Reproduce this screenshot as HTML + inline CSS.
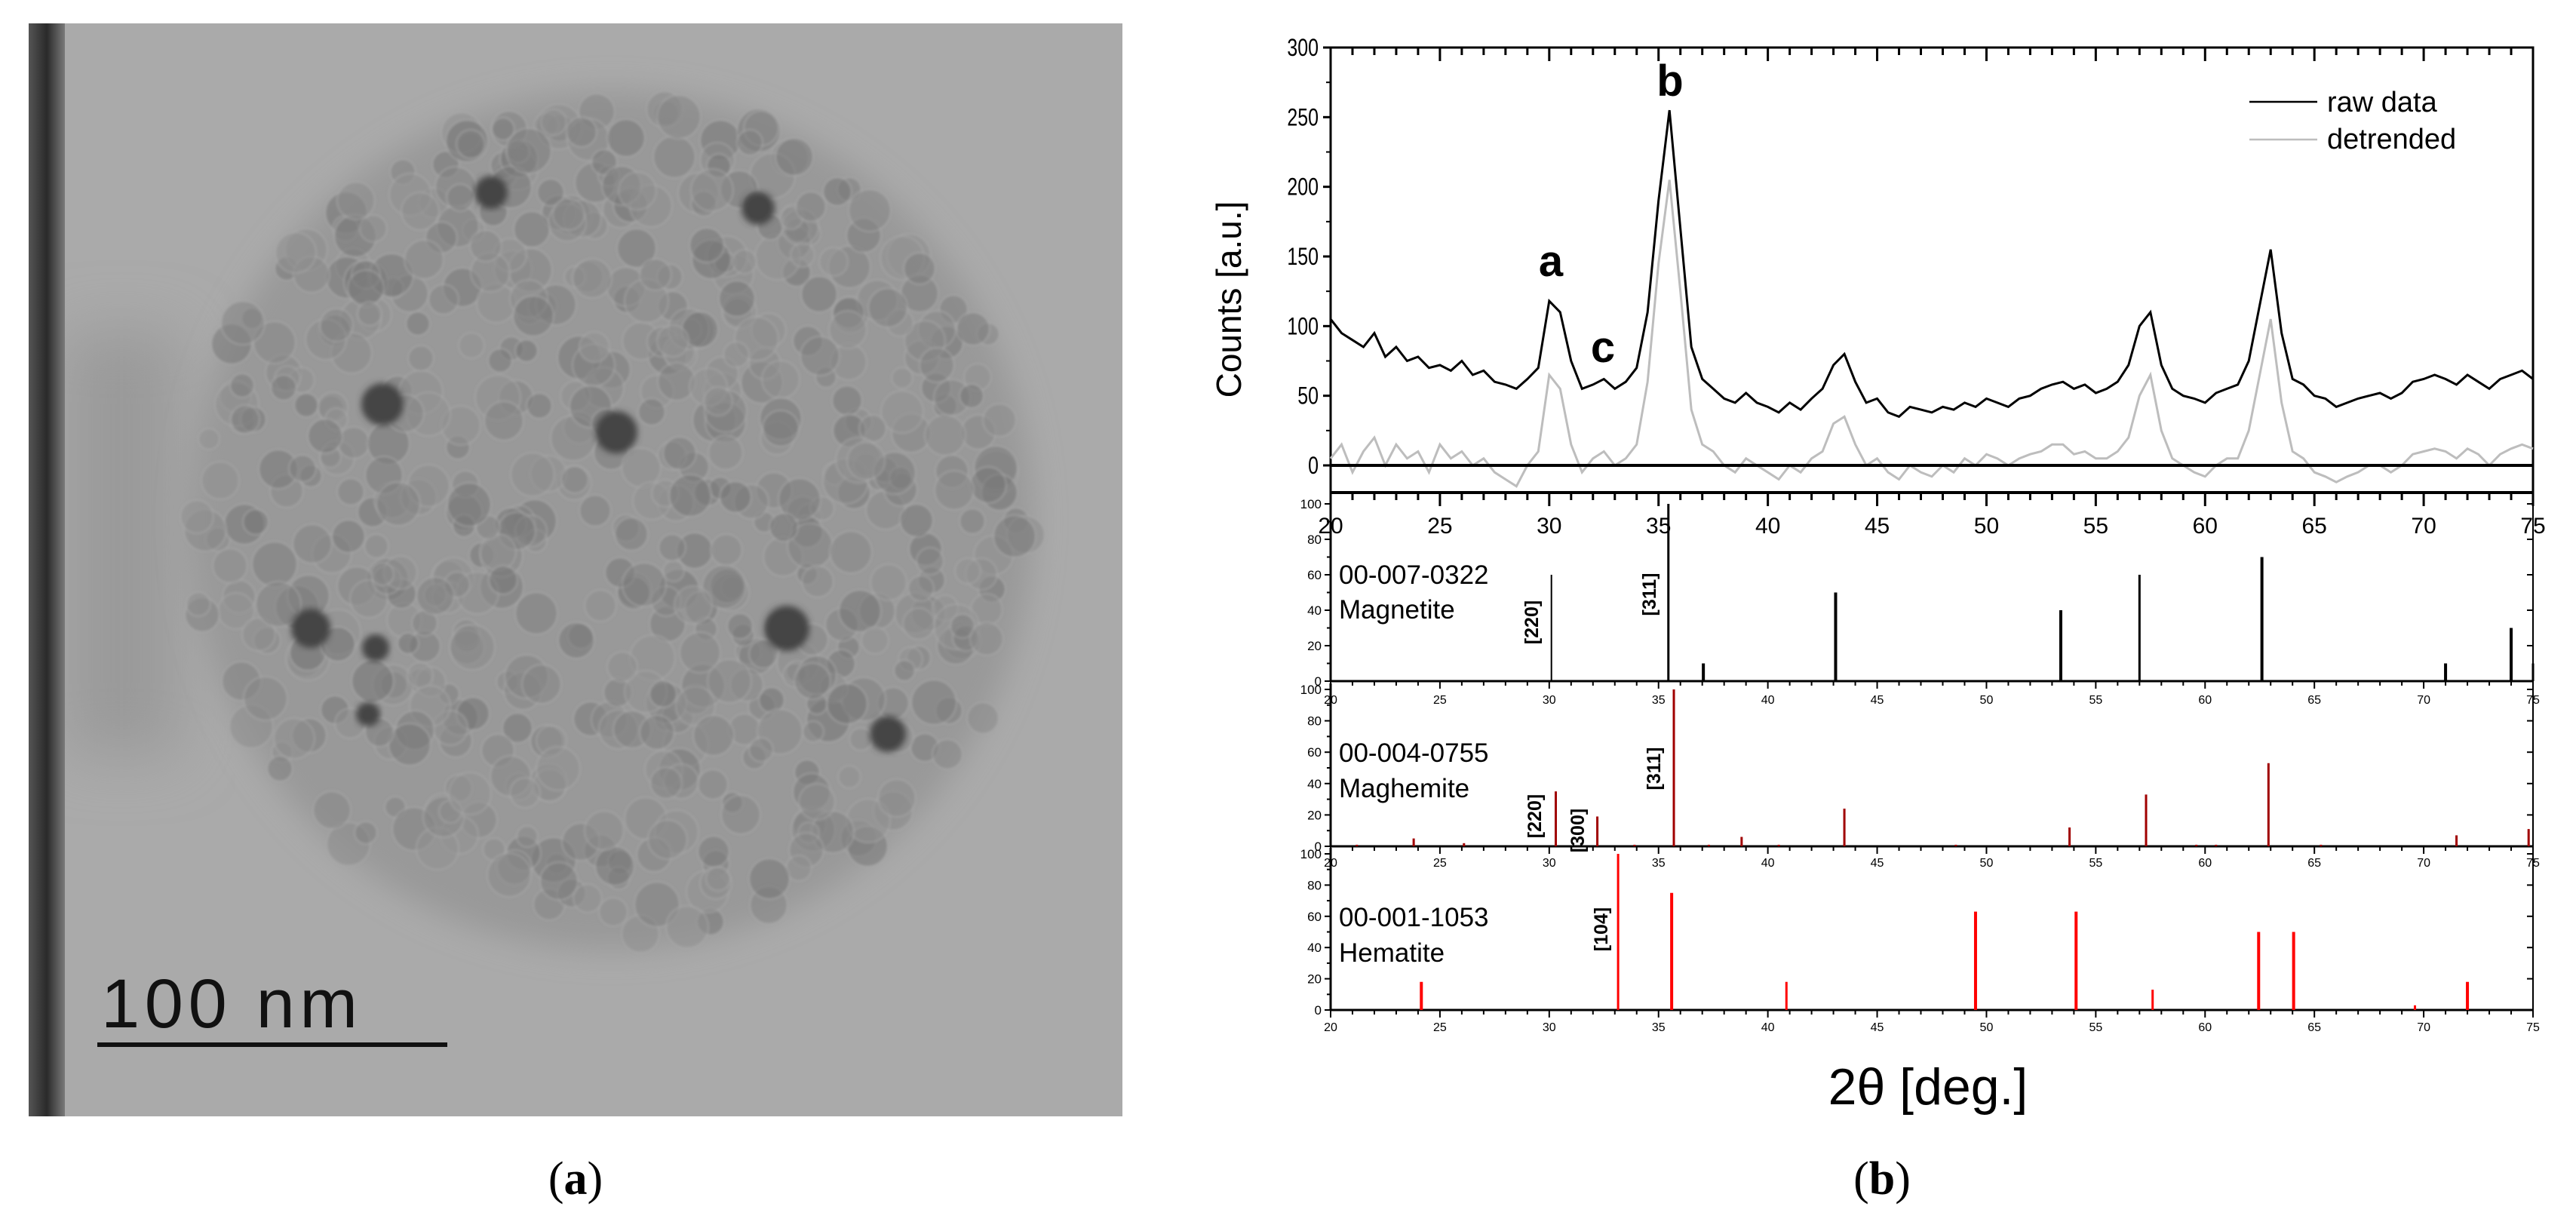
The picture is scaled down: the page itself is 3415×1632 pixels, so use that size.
<!DOCTYPE html>
<html><head><meta charset="utf-8"><style>
html,body{margin:0;padding:0;background:#fff}
svg{display:block}
text{font-family:"Liberation Sans",Arial,sans-serif}
.serif{font-family:"Liberation Serif",serif}
</style></head><body>
<svg id="fig" width="3415" height="1632" viewBox="0 0 3415 1632" xmlns="http://www.w3.org/2000/svg">
<defs>
<filter id="blur20" x="-50%" y="-50%" width="200%" height="200%"><feGaussianBlur stdDeviation="20"/></filter>
<filter id="blur40" x="-50%" y="-50%" width="200%" height="200%"><feGaussianBlur stdDeviation="40"/></filter>
<filter id="blur3"><feGaussianBlur stdDeviation="4"/></filter>
<filter id="blur1"><feGaussianBlur stdDeviation="1.5"/></filter>
<linearGradient id="band" x1="0" x2="1"><stop offset="0" stop-color="#555"/><stop offset="0.5" stop-color="#2a2a2a"/><stop offset="1" stop-color="#7a7a7a"/></linearGradient>
<clipPath id="temclip"><rect x="38" y="31" width="1450" height="1449"/></clipPath>
</defs>
<g id="tem" clip-path="url(#temclip)">
<rect x="38" y="31" width="1450" height="1449" fill="#aaaaaa"/>
<rect x="86" y="440" width="150" height="560" fill="#9a9a9a" filter="url(#blur40)"/>
<ellipse cx="810" cy="690" rx="560" ry="570" fill="#999" filter="url(#blur20)"/>
<g id="particles" filter="url(#blur1)"></g>
<rect x="38" y="31" width="48" height="1449" fill="url(#band)"/>
<text x="134" y="1362" font-size="92" fill="#111" textLength="340">100  nm</text>
<rect x="129" y="1382" width="464" height="6" fill="#111"/>
</g>
<text class="serif" x="763" y="1583" font-size="62" text-anchor="middle">(<tspan font-weight="bold">a</tspan>)</text>
<text class="serif" x="2495" y="1583" font-size="62" text-anchor="middle">(<tspan font-weight="bold">b</tspan>)</text>
<g id="xrd"></g>
</svg>
<script>
// ---- XRD data ----
const twoTheta = [];
for (let i = 0; i <= 110; i++) twoTheta.push(20 + i * 0.5);
const rawData = [105,95,90,85,95,78,85,75,78,70,72,68,75,65,68,60,58,55,62,70,118,110,75,55,58,62,55,60,70,110,190,255,170,85,62,55,48,45,52,45,42,38,45,40,48,55,72,80,60,45,48,38,35,42,40,38,42,40,45,42,48,45,42,48,50,55,58,60,55,58,52,55,60,72,100,110,72,55,50,48,45,52,55,58,75,115,155,95,62,58,50,48,42,45,48,50,52,48,52,60,62,65,62,58,65,60,55,62,65,68,62];
const detrended = [5,15,-5,10,20,0,15,5,10,-5,15,5,10,0,5,-5,-10,-15,0,10,65,55,15,-5,5,10,0,5,15,60,145,205,125,40,15,10,0,-5,5,0,-5,-10,0,-5,5,10,30,35,15,0,5,-5,-10,0,-5,-8,0,-5,5,0,8,5,0,5,8,10,15,15,8,10,5,5,10,20,50,65,25,5,0,-5,-8,0,5,5,25,65,105,45,10,5,-5,-8,-12,-8,-5,0,0,-5,0,8,10,12,10,5,12,8,0,8,12,15,12];
const countTicks = [0,50,100,150,200,250,300];
const degTicks = [20,25,30,35,40,45,50,55,60,65,70,75];
const magPos = [30.1,35.45,37.05,43.1,53.4,57.0,62.6,71.0,74.0,75.0];
const magInt = [60,100,10,50,40,60,70,10,30,10];
const maghPos = [21.2,23.8,26.1,30.3,32.2,33.9,35.7,37.3,38.8,40.5,43.5,48.6,53.8,57.3,59.6,60.5,62.9,65.3,71.5,74.8];
const maghInt = [1,5,2,35,19,1,100,1,6,1,24,1,12,33,1,1,53,1,7,11];
const hemPos = [24.15,33.15,35.6,40.85,49.5,54.1,57.6,62.45,64.05,69.6,72.0];
const hemInt = [18,100,75,18,63,63,13,50,50,3,18];
const pctTicks = [0,20,40,60,80,100];

const NS = "http://www.w3.org/2000/svg";
const root = document.getElementById('xrd');
function el(tag, attrs, parent, txt) {
  const e = document.createElementNS(NS, tag);
  for (const k in attrs) e.setAttribute(k, attrs[k]);
  if (txt !== undefined) e.textContent = txt;
  (parent || root).appendChild(e);
  return e;
}
const X0 = 1764, X1 = 3358;
function xS(d) { return X0 + (d - 20) * (X1 - X0) / 55; }
const topY300 = 63, topY0 = 617, topBottom = 653;
function yTop(v) { return topY0 - v * (topY0 - topY300) / 300; }

let f = el('path', {d:`M${X0},${topBottom} V${topY300} H${X1} V${topBottom}`, fill:'none', stroke:'#000', 'stroke-width':3});


let fb = el('line', {x1:X0, x2:X1, y1:topBottom, y2:topBottom, stroke:'#000', 'stroke-width':4});


for (let d = 20; d <= 75; d++) {
  const maj = d % 5 === 0;
  const t1 = el('line', {x1:xS(d), x2:xS(d), y1:topY300, y2:topY300 + (maj ? 18 : 10), stroke:'#000', 'stroke-width':3});
  
  
  const t2 = el('line', {x1:xS(d), x2:xS(d), y1:topBottom, y2:topBottom + (maj ? 18 : 10), stroke:'#000', 'stroke-width':3});
  
  
}
countTicks.forEach(v => {
  const t = el('line', {x1:X0 - 10, x2:X0, y1:yTop(v), y2:yTop(v), stroke:'#000', 'stroke-width':3});
  
  
  if (v < 300) {
    const m = el('line', {x1:X0 - 6, x2:X0, y1:yTop(v + 25), y2:yTop(v + 25), stroke:'#000', 'stroke-width':2});
    
    
  }
  const l = el('text', {x:X0 - 16, y:yTop(v) + 11, 'font-size':32, 'text-anchor':'end', transform:`translate(${X0 - 16},0) scale(0.78,1) translate(${-(X0 - 16)},0)`}, root, String(v));
  
  
});
let pts = twoTheta.map((d, i) => `${xS(d).toFixed(1)},${yTop(detrended[i]).toFixed(1)}`).join(' ');
let pl = el('polyline', {points:pts, fill:'none', stroke:'#bdbdbd', 'stroke-width':3});


let z = el('line', {x1:X0, x2:X1, y1:topY0, y2:topY0, stroke:'#000', 'stroke-width':4});


pts = twoTheta.map((d, i) => `${xS(d).toFixed(1)},${yTop(rawData[i]).toFixed(1)}`).join(' ');
pl = el('polyline', {points:pts, fill:'none', stroke:'#000', 'stroke-width':3});



[['a',2056,366],['b',2214,127],['c',2125,480]].forEach(p => {
  const t = el('text', {x:p[1], y:p[2], 'font-size':58, 'font-weight':'bold', 'text-anchor':'middle'}, root, p[0]);
  
  
});
let lg = el('line', {x1:2982, x2:3072, y1:135, y2:135, stroke:'#000', 'stroke-width':2.5});


lg = el('line', {x1:2982, x2:3072, y1:185, y2:185, stroke:'#bdbdbd', 'stroke-width':2.5});


lg = el('text', {x:3085, y:148, 'font-size':38}, root, 'raw data');


lg = el('text', {x:3085, y:197, 'font-size':38}, root, 'detrended');


let yt = el('text', {x:0, y:0, 'font-size':46, 'text-anchor':'middle', transform:'translate(1645,397) rotate(-90)'}, root, 'Counts [a.u.]');



const panels = [
  {top:668, zero:903, pos:magPos, inten:magInt, color:'#000', name:'magnetite', code:'00-007-0322', label:'Magnetite', b1:774, b2:820, w:[2,3,4,4,4,3,4,4,4,3]},
  {top:914, zero:1122, pos:maghPos, inten:maghInt, color:'#a00000', name:'maghemite', code:'00-004-0755', label:'Maghemite', b1:1010, b2:1057, w:null},
  {top:1132, zero:1339, pos:hemPos, inten:hemInt, color:'#ff0000', name:'hematite', code:'00-001-1053', label:'Hematite', b1:1228, b2:1275, w:[4,3,4,3,4,4,3,4,4,3,4]}
];
panels.forEach((p) => {
  const yP = v => p.zero - v * (p.zero - p.top) / 100;
  const g = el('g', {});
  
  
  el('line', {x1:X0, x2:X0, y1:p.top - 8, y2:p.zero, stroke:'#000', 'stroke-width':3}, g);
  el('line', {x1:X1, x2:X1, y1:p.top - 8, y2:p.zero, stroke:'#000', 'stroke-width':2}, g);
  el('line', {x1:X0, x2:X1, y1:p.zero, y2:p.zero, stroke:'#000', 'stroke-width':3}, g);
  for (let d = 20; d <= 75; d++) {
    const maj = d % 5 === 0;
    el('line', {x1:xS(d), x2:xS(d), y1:p.zero, y2:p.zero + (maj ? 10 : 6), stroke:'#000', 'stroke-width':2}, g);
  }
  pctTicks.forEach(v => {
    el('line', {x1:X0 - 8, x2:X0, y1:yP(v), y2:yP(v), stroke:'#000', 'stroke-width':2}, g);
    el('line', {x1:X1 - 8, x2:X1, y1:yP(v), y2:yP(v), stroke:'#000', 'stroke-width':2}, g);
    if (v < 100) el('line', {x1:X0 - 5, x2:X0, y1:yP(v + 10), y2:yP(v + 10), stroke:'#000', 'stroke-width':2}, g);
    const t = el('text', {x:X0 - 12, y:yP(v) + 6, 'font-size':17, 'text-anchor':'end'}, g, String(v));
    
    
  });
  p.pos.forEach((d, i) => {
    const w = p.w ? p.w[i] : 3;
    const r = el('rect', {x:xS(d) - w / 2, y:yP(p.inten[i]), width:w, height:p.zero - yP(p.inten[i]), fill:p.color}, g);
    
    
  });
  let t = el('text', {x:1775, y:p.b1, 'font-size':35}, g, p.code);
  
  
  t = el('text', {x:1775, y:p.b2, 'font-size':35}, g, p.label);
  
  
});
const labelRows = [{y:707, fs:30, name:'top-x-tick-label'}, {y:933, fs:16, name:'magnetite-x-tick-label'}, {y:1149, fs:16, name:'maghemite-x-tick-label'}, {y:1367, fs:16, name:'hematite-x-tick-label'}];
labelRows.forEach(r => {
  degTicks.forEach(d => {
    const t = el('text', {x:xS(d), y:r.y, 'font-size':r.fs, 'text-anchor':'middle'}, root, String(d));
    
    
  });
});
[['[220]',2031,825],['[311]',2187,788],['[220]',2035,1082],['[300]',2092,1101],['[311]',2193,1019],['[104]',2123,1232]].forEach(m => {
  const t = el('text', {x:0, y:0, 'font-size':25, 'font-weight':'bold', 'text-anchor':'middle', 'dominant-baseline':'central', transform:`translate(${m[1]},${m[2]}) rotate(-90)`}, root, m[0]);
  
  
});
let xt = el('text', {x:2556, y:1464, 'font-size':68, 'text-anchor':'middle'}, root, '2θ [deg.]');



// ---- TEM particles (decorative texture) ----
const pg = document.getElementById('particles');
let seed = 7;
function rnd() { seed = (seed * 16807) % 2147483647; return seed / 2147483647; }
for (let i = 0; i < 600; i++) {
  const a = rnd() * Math.PI * 2, rr = Math.sqrt(rnd());
  const cx = 810 + Math.cos(a) * rr * 560, cy = 690 + Math.sin(a) * rr * 560;
  const g = Math.floor(118 + rnd() * 30);
  el('circle', {cx:cx.toFixed(0), cy:cy.toFixed(0), r:(14 + rnd() * 16).toFixed(0), fill:`rgb(${g},${g},${g})`, stroke:'#ababab', 'stroke-width':2, opacity:0.55}, pg);
}
[[817,573,28],[412,833,26],[498,859,18],[488,947,16],[651,255,22],[1005,276,22],[1177,973,24],[1043,833,30],[507,536,28]].forEach(s => {
  el('circle', {cx:s[0], cy:s[1], r:s[2], fill:'#444', filter:'url(#blur3)'}, pg);
});
</script>
</body></html>
